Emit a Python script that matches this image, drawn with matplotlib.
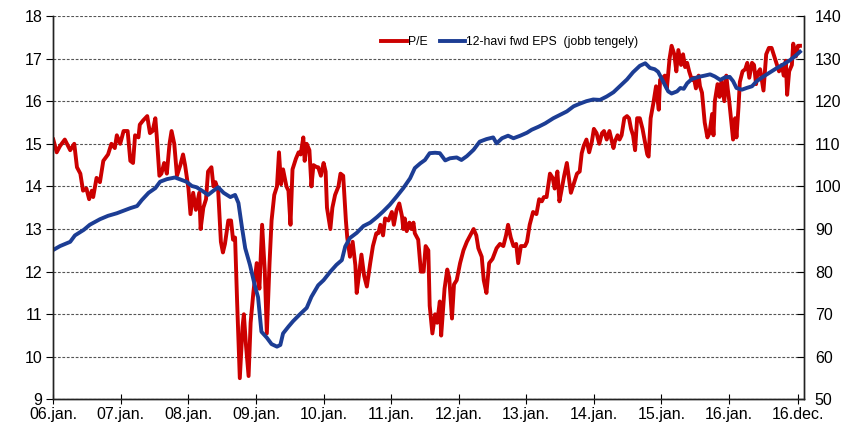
import matplotlib
matplotlib.use('Agg')
import matplotlib.pyplot as plt

# P/E (left axis) - decimal year and value
pe_years = [2006.00, 2006.05, 2006.10, 2006.17, 2006.25, 2006.31, 2006.35, 2006.40, 2006.44, 2006.49,
            2006.53, 2006.57, 2006.59, 2006.64, 2006.69, 2006.74, 2006.81, 2006.86, 2006.91, 2006.94,
            2006.99, 2007.04, 2007.10, 2007.14, 2007.18, 2007.21, 2007.26, 2007.28, 2007.33, 2007.39,
            2007.43, 2007.47, 2007.51, 2007.53, 2007.57, 2007.60, 2007.64, 2007.68, 2007.72, 2007.75,
            2007.79, 2007.83, 2007.88, 2007.92, 2007.95, 2008.00, 2008.03, 2008.07, 2008.11, 2008.16,
            2008.18, 2008.22, 2008.26, 2008.29, 2008.34, 2008.37, 2008.40, 2008.44, 2008.48, 2008.51,
            2008.54, 2008.59, 2008.63, 2008.66, 2008.69, 2008.72, 2008.76, 2008.80, 2008.82, 2008.85,
            2008.89, 2008.92, 2008.96, 2009.01, 2009.05, 2009.09, 2009.13, 2009.16, 2009.20, 2009.23,
            2009.27, 2009.31, 2009.34, 2009.37, 2009.40, 2009.45, 2009.48, 2009.51, 2009.54, 2009.59,
            2009.63, 2009.66, 2009.70, 2009.72, 2009.75, 2009.79, 2009.82, 2009.85, 2009.90, 2009.92,
            2009.96, 2010.00, 2010.03, 2010.05, 2010.10, 2010.13, 2010.17, 2010.22, 2010.25, 2010.29,
            2010.33, 2010.35, 2010.39, 2010.43, 2010.47, 2010.49, 2010.53, 2010.56, 2010.60, 2010.64,
            2010.69, 2010.73, 2010.78, 2010.81, 2010.84, 2010.88, 2010.91, 2010.96, 2011.01, 2011.04,
            2011.08, 2011.12, 2011.16, 2011.18, 2011.20, 2011.23, 2011.27, 2011.30, 2011.33, 2011.35,
            2011.40, 2011.44, 2011.48, 2011.51, 2011.55, 2011.57, 2011.61, 2011.65, 2011.68, 2011.72,
            2011.74, 2011.79, 2011.83, 2011.86, 2011.90, 2011.93, 2011.97, 2012.02, 2012.07, 2012.12,
            2012.17, 2012.22, 2012.26, 2012.29, 2012.34, 2012.37, 2012.41, 2012.45, 2012.50, 2012.56,
            2012.61, 2012.66, 2012.70, 2012.73, 2012.77, 2012.81, 2012.85, 2012.88, 2012.92, 2012.98,
            2013.01, 2013.05, 2013.10, 2013.15, 2013.19, 2013.23, 2013.26, 2013.30, 2013.35, 2013.39,
            2013.42, 2013.46, 2013.49, 2013.52, 2013.56, 2013.60, 2013.63, 2013.66, 2013.71, 2013.75,
            2013.79, 2013.82, 2013.85, 2013.89, 2013.93, 2013.97, 2014.00, 2014.04, 2014.08, 2014.12,
            2014.15, 2014.19, 2014.23, 2014.29, 2014.31, 2014.35, 2014.38, 2014.41, 2014.45, 2014.49,
            2014.52, 2014.55, 2014.58, 2014.61, 2014.64, 2014.68, 2014.72, 2014.76, 2014.79, 2014.81,
            2014.84, 2014.88, 2014.92, 2014.96, 2014.98, 2015.02, 2015.05, 2015.08, 2015.12, 2015.15,
            2015.19, 2015.22, 2015.25, 2015.29, 2015.32, 2015.35, 2015.38, 2015.41, 2015.45, 2015.48,
            2015.51, 2015.55, 2015.57, 2015.60, 2015.64, 2015.68, 2015.71, 2015.75, 2015.77, 2015.79,
            2015.83, 2015.86, 2015.89, 2015.93, 2015.96, 2015.98, 2016.00, 2016.04, 2016.06, 2016.09,
            2016.11, 2016.14, 2016.16, 2016.20, 2016.24, 2016.27, 2016.30, 2016.34, 2016.37, 2016.40,
            2016.42, 2016.46, 2016.51, 2016.55, 2016.59, 2016.63, 2016.67, 2016.71, 2016.74, 2016.78,
            2016.81, 2016.84, 2016.86, 2016.89, 2016.93, 2016.95, 2016.99, 2017.02, 2017.05]
pe_values = [15.1, 14.8, 14.95, 15.1, 14.85, 15.0, 14.45, 14.3, 13.9, 13.95,
             13.7, 13.9, 13.75, 14.2, 14.1, 14.6, 14.75, 15.0, 14.9, 15.2,
             15.0, 15.3, 15.3, 14.6, 14.55, 15.2, 15.15, 15.45, 15.55, 15.65,
             15.25, 15.3, 15.6, 15.2, 14.25, 14.3, 14.55, 14.3, 15.0, 15.3,
             15.0, 14.25, 14.5, 14.75, 14.5, 13.95, 13.35, 13.85, 13.45, 13.85,
             13.0, 13.5, 13.7, 14.35, 14.45, 14.0, 14.1, 13.9, 12.7, 12.45,
             12.65, 13.2, 13.2, 12.75, 12.8, 11.3, 9.5, 10.7, 11.0, 10.3,
             9.55, 10.8, 11.5, 12.2, 11.6, 13.1, 12.0, 10.55, 12.2, 13.2,
             13.8, 14.0, 14.8, 14.05, 14.4, 14.0, 13.9, 13.1, 14.4, 14.65,
             14.8, 14.75, 15.15, 14.6, 15.0, 14.85, 14.0, 14.5, 14.45, 14.45,
             14.25, 14.55, 14.35, 13.5, 13.0, 13.5, 13.8, 14.0, 14.3, 14.25,
             13.2, 12.8, 12.35, 12.7, 12.15, 11.5, 12.0, 12.4, 11.9, 11.65,
             12.2, 12.6, 12.9, 12.9, 13.1, 12.85, 13.25, 13.2, 13.4, 13.1,
             13.45, 13.6, 13.3, 13.0, 13.25, 12.95, 13.15, 13.0, 13.15, 12.9,
             12.75, 12.0, 12.0, 12.6, 12.5, 11.2, 10.55, 11.0, 10.8, 11.3,
             10.5, 11.6, 12.05, 11.85, 10.9, 11.7, 11.8, 12.2, 12.5, 12.7,
             12.85, 13.0, 12.85, 12.55, 12.35, 11.8, 11.5, 12.2, 12.3, 12.55,
             12.65, 12.6, 12.85, 13.1, 12.8, 12.6, 12.65, 12.2, 12.6, 12.6,
             12.7, 13.1, 13.4, 13.35, 13.7, 13.65, 13.75, 13.75, 14.3, 14.2,
             13.95, 14.35, 13.65, 13.9, 14.25, 14.55, 14.2, 13.85, 14.1, 14.3,
             14.35, 14.78, 14.95, 15.1, 14.8, 15.05, 15.35, 15.25, 15.0, 15.25,
             15.3, 15.1, 15.3, 14.9, 15.05, 15.2, 15.1, 15.2, 15.6, 15.65,
             15.6, 15.35, 15.2, 14.85, 15.6, 15.6, 15.35, 15.0, 14.75, 14.7,
             15.6, 15.95, 16.35, 15.8, 16.5, 16.55, 16.6, 16.3, 17.0, 17.3,
             17.1, 16.7, 17.2, 16.85, 17.1, 16.8, 16.9, 16.7, 16.5, 16.55,
             16.3, 16.6, 16.35, 16.2, 15.5, 15.15, 15.25, 15.7, 15.2, 16.0,
             16.4, 16.1, 16.5, 16.0, 16.6, 16.3, 16.05, 15.4, 15.1, 15.6,
             15.15, 15.85, 16.45, 16.7, 16.75, 16.9, 16.55, 16.9, 16.85, 16.4,
             16.65, 16.75, 16.25, 17.1, 17.25, 17.25, 17.05, 16.85, 16.7, 16.85,
             16.6, 16.95, 16.15, 16.7, 16.85, 17.35, 17.05, 17.3, 17.3]

# 12-month forward EPS (right axis)
eps_years = [2006.00, 2006.10, 2006.25, 2006.32, 2006.45, 2006.54, 2006.69, 2006.81, 2006.94, 2007.04,
             2007.14, 2007.24, 2007.31, 2007.41, 2007.51, 2007.58, 2007.68, 2007.80, 2007.90, 2007.97,
             2008.05, 2008.12, 2008.20, 2008.29, 2008.37, 2008.44, 2008.52, 2008.62, 2008.69, 2008.74,
             2008.79, 2008.84, 2008.91, 2008.98, 2009.03, 2009.08, 2009.16, 2009.23, 2009.31, 2009.36,
             2009.40, 2009.48, 2009.55, 2009.65, 2009.75, 2009.82, 2009.92, 2010.00, 2010.10, 2010.19,
             2010.27, 2010.32, 2010.39, 2010.49, 2010.59, 2010.69, 2010.79, 2010.88, 2010.98, 2011.08,
             2011.18, 2011.28, 2011.35, 2011.43, 2011.50, 2011.57, 2011.65, 2011.72, 2011.80, 2011.87,
             2011.97, 2012.04, 2012.12, 2012.22, 2012.31, 2012.41, 2012.51, 2012.56, 2012.64, 2012.73,
             2012.81, 2012.91, 2013.01, 2013.08, 2013.18, 2013.28, 2013.40, 2013.50, 2013.60, 2013.70,
             2013.79, 2013.89, 2013.99, 2014.09, 2014.19, 2014.29, 2014.39, 2014.49, 2014.58, 2014.68,
             2014.76, 2014.83, 2014.90, 2014.95, 2015.00, 2015.05, 2015.10, 2015.15, 2015.23, 2015.28,
             2015.33, 2015.38, 2015.45, 2015.55, 2015.64, 2015.72, 2015.79, 2015.87, 2015.94, 2016.01,
             2016.06, 2016.11, 2016.19, 2016.26, 2016.34, 2016.41, 2016.51, 2016.61, 2016.71, 2016.80,
             2016.90, 2016.98, 2017.05]
eps_values = [85.1, 86.0, 87.0, 88.5, 89.8, 91.0, 92.3, 93.1, 93.7, 94.3,
              94.9, 95.4, 96.8, 98.5, 99.6, 101.1, 101.7, 102.1, 101.5, 101.1,
              100.1, 99.8, 99.0, 98.0, 99.0, 99.8, 98.5, 97.5, 98.0, 96.1,
              90.6, 85.5, 81.6, 76.9, 74.0, 65.9, 64.5, 63.0, 62.4, 62.8,
              65.5, 67.1, 68.4, 70.0, 71.5, 74.1, 76.8, 78.0, 80.0, 81.6,
              82.7, 85.9, 87.9, 89.1, 90.7, 91.5, 92.8, 94.1, 95.7, 97.6,
              99.6, 101.9, 104.3, 105.4, 106.2, 107.8, 107.9, 107.8, 106.1, 106.6,
              106.8, 106.2, 107.1, 108.6, 110.5, 111.1, 111.5, 110.1, 111.3, 111.9,
              111.3, 111.9, 112.6, 113.3, 114.0, 114.8, 116.0, 116.8, 117.6, 118.8,
              119.4, 120.0, 120.4, 120.3, 121.1, 122.1, 123.6, 125.1, 126.8, 128.3,
              128.9, 127.8, 127.5, 126.9, 125.4, 123.8, 122.3, 121.8, 122.3, 123.1,
              122.9, 124.2, 125.2, 125.7, 126.0, 126.3, 125.8, 125.0, 125.6, 125.7,
              124.7, 123.1, 122.7, 123.1, 123.5, 124.7, 125.8, 126.8, 127.8, 128.6,
              129.6, 130.6, 131.6]

tick_pos = [2006, 2007, 2008, 2009, 2010, 2011, 2012, 2013, 2014, 2015, 2016, 2017.02]
tick_labels = ["06.jan.", "07.jan.", "08.jan.", "09.jan.", "10.jan.", "11.jan.",
               "12.jan.", "13.jan.", "14.jan.", "15.jan.", "16.jan.", "16.dec."]

plt.rcParams['font.family'] = ['Liberation Sans', 'DejaVu Sans']

fig = plt.figure(figsize=(8.64, 4.29), dpi=100)
ax = fig.add_axes([0.0617, 0.0688, 0.8685, 0.894])
ax2 = ax.twinx()

red = '#CC0000'
blue = '#1C3D94'

# Lines
l1, = ax.plot(pe_years, pe_values, color=red, lw=2.8, label='P/E', solid_joinstyle='round')
l2, = ax2.plot(eps_years, eps_values, color=blue, lw=2.8, label='12-havi fwd EPS  (jobb tengely)',
               solid_joinstyle='round')

# Axes limits
ax.set_xlim(2006.0, 2017.105)
ax.set_ylim(9, 18)
ax2.set_ylim(50, 140)
ax.set_yticks(range(9, 19))
ax2.set_yticks(range(50, 141, 10))
ax.set_xticks(tick_pos)
ax.set_xticklabels(tick_labels)

# Grid
ax.grid(axis='y', color='#555555', linestyle=(0, (2.5, 1.5)), linewidth=0.8)
ax.grid(axis='x', visible=False)
ax.set_axisbelow(True)

# Spines and ticks
for a in (ax, ax2):
    a.spines['top'].set_visible(False)
    for s in ('left', 'right', 'bottom'):
        a.spines[s].set_linewidth(1.0)
        a.spines[s].set_color('#222222')
ax.tick_params(axis='y', direction='out', length=5, labelsize=11.5, pad=3)
ax.tick_params(axis='x', direction='inout', length=7, labelsize=11.5, pad=2)
ax2.tick_params(axis='y', direction='in', length=5, labelsize=11.5, pad=8)

# Legend
ax2.legend(handles=[l1, l2], loc='center left', bbox_to_anchor=(0.43, 0.932), ncol=2,
           frameon=False, fontsize=8.8, handlelength=2.1, handletextpad=0.1,
           columnspacing=1.0, borderaxespad=0)

plt.savefig('out.png', dpi=100)
